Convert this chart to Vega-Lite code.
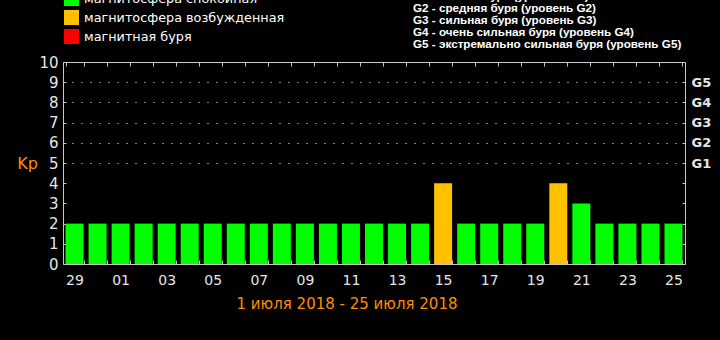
{
  "$schema": "https://vega.github.io/schema/vega-lite/v6.json",
  "width": 622,
  "height": 202,
  "autosize": {"type": "none"},
  "padding": {"left": 63, "top": 62, "right": 35, "bottom": 76},
  "background": "#000000",
  "title": {
    "text": ["G1 - слабая буря (уровень G1)", "G2 - средняя буря (уровень G2)", "G3 - сильная буря (уровень G3)", "G4 - очень сильная буря (уровень G4)", "G5 - экстремально сильная буря (уровень G5)"],
    "anchor": "start",
    "align": "left",
    "dx": 350,
    "dy": 71,
    "offset": 0,
    "font": "Liberation Sans",
    "fontSize": 11.7,
    "fontWeight": "bold",
    "color": "#ffffff",
    "lineHeight": 12,
    "baseline": "bottom",
    "frame": "group",
    "limit": 0
  },
  "data": {
    "values": [
      {"date": "2018-06-29", "kp": 2, "status": "магнитосфера спокойная"},
      {"date": "2018-06-30", "kp": 2, "status": "магнитосфера спокойная"},
      {"date": "2018-07-01", "kp": 2, "status": "магнитосфера спокойная"},
      {"date": "2018-07-02", "kp": 2, "status": "магнитосфера спокойная"},
      {"date": "2018-07-03", "kp": 2, "status": "магнитосфера спокойная"},
      {"date": "2018-07-04", "kp": 2, "status": "магнитосфера спокойная"},
      {"date": "2018-07-05", "kp": 2, "status": "магнитосфера спокойная"},
      {"date": "2018-07-06", "kp": 2, "status": "магнитосфера спокойная"},
      {"date": "2018-07-07", "kp": 2, "status": "магнитосфера спокойная"},
      {"date": "2018-07-08", "kp": 2, "status": "магнитосфера спокойная"},
      {"date": "2018-07-09", "kp": 2, "status": "магнитосфера спокойная"},
      {"date": "2018-07-10", "kp": 2, "status": "магнитосфера спокойная"},
      {"date": "2018-07-11", "kp": 2, "status": "магнитосфера спокойная"},
      {"date": "2018-07-12", "kp": 2, "status": "магнитосфера спокойная"},
      {"date": "2018-07-13", "kp": 2, "status": "магнитосфера спокойная"},
      {"date": "2018-07-14", "kp": 2, "status": "магнитосфера спокойная"},
      {"date": "2018-07-15", "kp": 4, "status": "магнитосфера возбужденная"},
      {"date": "2018-07-16", "kp": 2, "status": "магнитосфера спокойная"},
      {"date": "2018-07-17", "kp": 2, "status": "магнитосфера спокойная"},
      {"date": "2018-07-18", "kp": 2, "status": "магнитосфера спокойная"},
      {"date": "2018-07-19", "kp": 2, "status": "магнитосфера спокойная"},
      {"date": "2018-07-20", "kp": 4, "status": "магнитосфера возбужденная"},
      {"date": "2018-07-21", "kp": 3, "status": "магнитосфера спокойная"},
      {"date": "2018-07-22", "kp": 2, "status": "магнитосфера спокойная"},
      {"date": "2018-07-23", "kp": 2, "status": "магнитосфера спокойная"},
      {"date": "2018-07-24", "kp": 2, "status": "магнитосфера спокойная"},
      {"date": "2018-07-25", "kp": 2, "status": "магнитосфера спокойная"}
    ]
  },
  "layer": [
    {
      "mark": {"type": "bar"},
      "encoding": {
        "x": {
          "field": "date",
          "type": "ordinal",
          "scale": {"paddingInner": 0.22, "paddingOuter": 0.11},
          "axis": {
            "orient": "bottom",
            "title": "1 июля 2018 - 25 июля 2018",
            "titleColor": "#ff8c00",
            "titleFont": "DejaVu Sans",
            "titleFontSize": 15,
            "titleFontWeight": "normal",
            "titleX": 283.5,
            "titleY": 39,
            "titleAlign": "center",
            "titleBaseline": "middle",
            "labelExpr": "toNumber(substring(datum.value, 8, 10)) % 2 == 1 ? substring(datum.value, 8, 10) : ''",
            "labelAngle": 0,
            "labelOverlap": false,
            "labelColor": "#e6e6e6",
            "labelFont": "DejaVu Sans",
            "labelFontSize": 14,
            "labelPadding": 13,
            "tickBand": "extent",
            "tickSize": -4,
            "tickColor": "#c8c8c8",
            "domain": false,
            "grid": false
          }
        },
        "y": {
          "field": "kp",
          "type": "quantitative",
          "scale": {"domain": [0, 10], "nice": false},
          "axis": {
            "orient": "left",
            "values": [0, 1, 2, 3, 4, 5, 6, 7, 8, 9, 10],
            "title": "Kp",
            "titleAngle": 0,
            "titleColor": "#ff8c00",
            "titleFont": "DejaVu Sans",
            "titleFontSize": 16,
            "titleFontWeight": "normal",
            "titleX": -36,
            "titleY": 101,
            "titleAlign": "center",
            "titleBaseline": "middle",
            "labelColor": "#e6e6e6",
            "labelFont": "DejaVu Sans",
            "labelFontSize": 15,
            "labelPadding": 8,
            "tickSize": -3,
            "tickColor": "#c8c8c8",
            "domain": false,
            "grid": true,
            "gridColor": "#ffffff",
            "gridDash": [1, 8],
            "gridWidth": 1,
            "gridOpacity": {"condition": {"test": "datum.value >= 5 && datum.value <= 9", "value": 1}, "value": 0}
          }
        },
        "color": {
          "field": "status",
          "type": "nominal",
          "scale": {
            "domain": ["магнитосфера спокойная", "магнитосфера возбужденная", "магнитная буря"],
            "range": ["#00ff00", "#ffc000", "#ff0000"]
          },
          "legend": {
            "orient": "none",
            "legendX": 1,
            "legendY": -71,
            "direction": "vertical",
            "title": null,
            "symbolType": "square",
            "symbolSize": 225,
            "symbolStrokeWidth": 0,
            "symbolOpacity": 1,
            "labelColor": "#ffffff",
            "labelFont": "DejaVu Sans",
            "labelFontSize": 12.8,
            "labelLimit": 0,
            "labelOffset": 5,
            "rowPadding": 4,
            "padding": 0
          }
        }
      }
    },
    {
      "mark": {"type": "bar", "opacity": 0},
      "encoding": {
        "x": {
          "field": "date",
          "type": "ordinal",
          "axis": {
            "orient": "top",
            "title": null,
            "labels": false,
            "tickBand": "extent",
            "tickSize": -4,
            "tickColor": "#c8c8c8",
            "domain": false,
            "grid": false
          }
        },
        "y": {
          "field": "kp",
          "type": "quantitative",
          "axis": {
            "orient": "right",
            "title": null,
            "values": [0, 1, 2, 3, 4, 5, 6, 7, 8, 9, 10],
            "labelExpr": "datum.value >= 5 && datum.value <= 9 ? 'G' + (datum.value - 4) : ''",
            "labelColor": "#e6e6e6",
            "labelFont": "DejaVu Sans",
            "labelFontSize": 13,
            "labelFontWeight": "bold",
            "labelPadding": 9,
            "tickSize": -3,
            "tickColor": "#c8c8c8",
            "domain": false,
            "grid": false
          }
        }
      }
    }
  ],
  "resolve": {"axis": {"x": "independent", "y": "independent"}},
  "config": {"view": {"stroke": "#c8c8c8", "strokeWidth": 1}}
}
